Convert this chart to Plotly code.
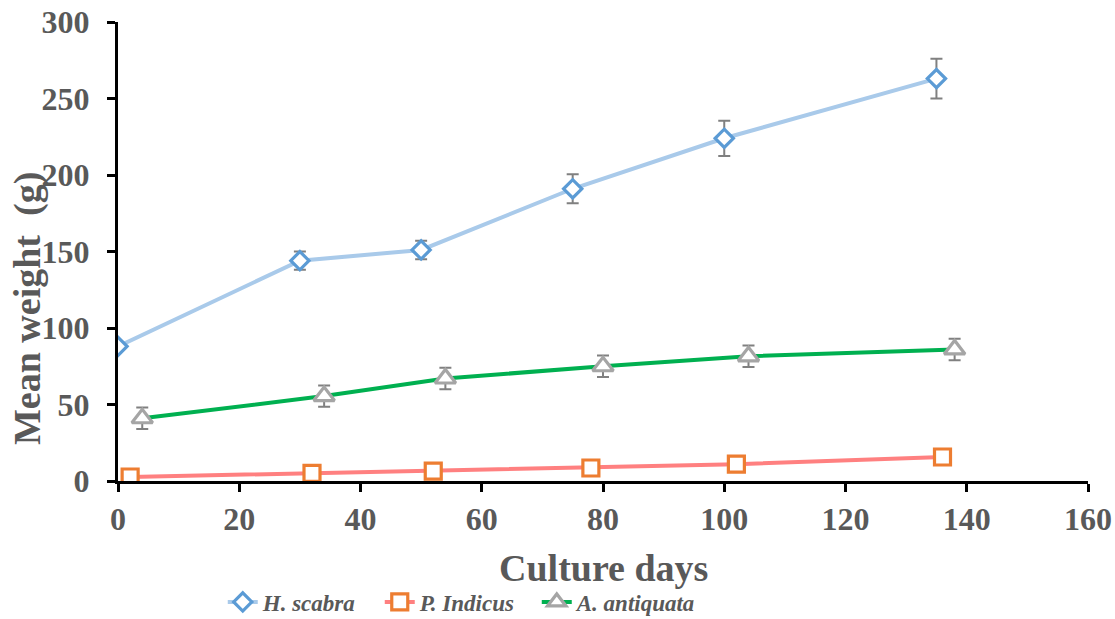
import plotly.graph_objects as go

# Data
hs_days = [0, 30, 50, 75, 100, 135]
hs_weight = [88, 144, 151, 191, 224, 263]
hs_err = [0, 6, 6, 9.5, 11.5, 13]

pi_days = [2, 32, 52, 78, 102, 136]
pi_weight = [2.6, 5, 6.5, 8.5, 11, 15.7]
pi_err = [1, 1, 1, 1, 1.5, 2]

aa_days = [4, 34, 54, 80, 104, 138]
aa_weight = [41, 55.5, 67, 75, 81.5, 86]
aa_err = [7, 7, 7, 7, 7, 7]

x_ticks = [0, 20, 40, 60, 80, 100, 120, 140, 160]
y_ticks = [0, 50, 100, 150, 200, 250, 300]

FONT = "Liberation Serif"
GRAY = "#595959"

fig = go.Figure()

def add(name, x, y, err, line_color, mk_color, symbol, size):
    fig.add_trace(go.Scatter(
        x=x, y=y, name=name, mode="lines+markers",
        line=dict(color=line_color, width=4),
        marker=dict(symbol=symbol, size=size, color="white",
                    line=dict(color=mk_color, width=3.2)),
        error_y=dict(type="data", array=err, visible=True,
                     color="#808080", thickness=2, width=6),
    ))

add("<b><i>H. scabra</i></b>", hs_days, hs_weight, hs_err, "#A9CAEA", "#5B9BD5", "diamond", 14)
add("<b><i>P. Indicus</i></b>", pi_days, pi_weight, pi_err, "#FF8080", "#ED7D31", "square", 16)
add("<b><i>A. antiquata</i></b>", aa_days, aa_weight, aa_err, "#00B050", "#A5A5A5", "triangle-up", 18)

axis_common = dict(showgrid=False, zeroline=False, showline=True, linecolor="black", linewidth=3,
                   ticks="outside", ticklen=8, tickwidth=3, tickcolor="black", automargin=False,
                   ticklabeloverflow="allow",
                   tickfont=dict(family=FONT, size=32, color=GRAY, weight="bold"))

fig.update_layout(
    width=1115, height=619,
    margin=dict(l=118, r=27, t=22, b=138),
    paper_bgcolor="white", plot_bgcolor="white",
    font=dict(family=FONT, color=GRAY, size=23),
    showlegend=True,
    legend=dict(orientation="h", xref="paper", x=0.108, xanchor="left",
                yref="container", y=0.0275, yanchor="middle",
                font=dict(family=FONT, size=23, color=GRAY),
                entrywidth=112, itemwidth=30, tracegroupgap=0, bgcolor="rgba(0,0,0,0)"),
    xaxis=dict(range=[0, 160], tickvals=x_ticks, ticktext=[str(v) for v in x_ticks], **axis_common),
    yaxis=dict(range=[0, 300], tickvals=y_ticks, ticktext=[str(v) for v in y_ticks],
               ticklabelstandoff=11, **axis_common),
    annotations=[
        dict(text="<b>Culture days</b>", xref="paper", yref="paper", x=0.5, y=-0.1895,
             xanchor="center", yanchor="middle", showarrow=False,
             font=dict(family=FONT, size=38, color=GRAY)),
        dict(text="<b>Mean weight\u00a0 (g)</b>", xref="paper", yref="paper", x=-0.0938, y=0.3747,
             xanchor="center", yanchor="middle", showarrow=False, textangle=-90,
             font=dict(family=FONT, size=38, color=GRAY)),
    ],
)

# remove the default 8px page margin so the figure sits at the window's top-left corner
fig.write_html("out.html", config={"displayModeBar": False},
               post_script="document.body.style.margin='0';")
